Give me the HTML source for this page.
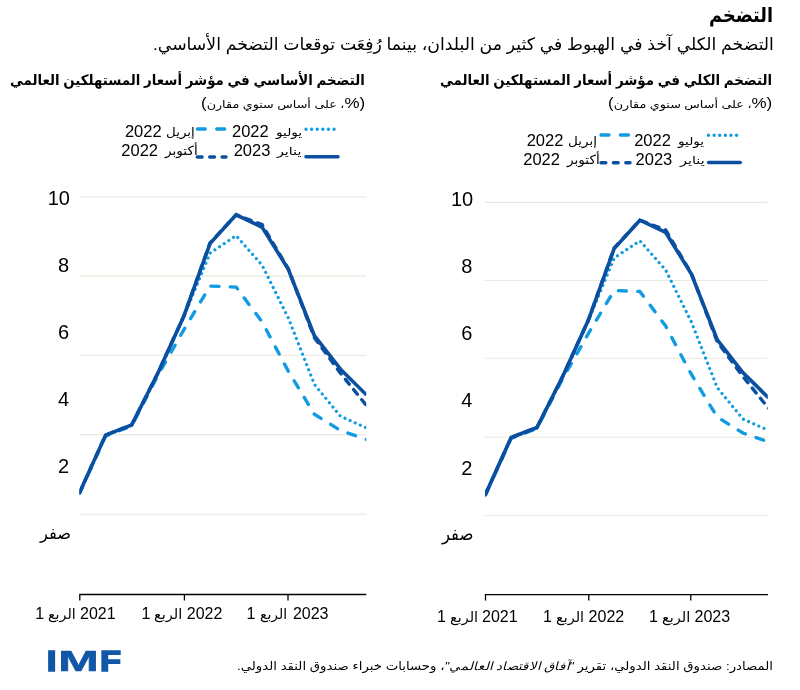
<!DOCTYPE html>
<html lang="ar">
<head>
<meta charset="utf-8">
<title>التضخم</title>
<style>
html,body{margin:0;padding:0;background:#fff;}
body{width:800px;height:690px;position:relative;overflow:hidden;font-family:"Liberation Sans", "DejaVu Sans", sans-serif;color:#000;}
.t{position:absolute;white-space:nowrap;line-height:1.2;transform-origin:0 0;}
.b{font-weight:bold;}
.l{font-size:1.33em;line-height:0;}
</style>
</head>
<body>
<svg width="800" height="690" viewBox="0 0 800 690" style="position:absolute;left:0;top:0">
<clipPath id="clipR"><rect x="485" y="150" width="282.75" height="420"/></clipPath>
<line x1="485" x2="767.75" y1="202.4" y2="202.4" stroke="#EAE8DD" stroke-width="1.1"/>
<line x1="485" x2="767.75" y1="280.5" y2="280.5" stroke="#EAE8DD" stroke-width="1.1"/>
<line x1="485" x2="767.75" y1="358.2" y2="358.2" stroke="#EAE8DD" stroke-width="1.1"/>
<line x1="485" x2="767.75" y1="437.3" y2="437.3" stroke="#EAE8DD" stroke-width="1.1"/>
<line x1="485" x2="767.75" y1="515.5" y2="515.5" stroke="#EAE8DD" stroke-width="1.1"/>
<g clip-path="url(#clipR)" fill="none" stroke-linejoin="miter" stroke-miterlimit="10">
<polyline points="485.40,495.00 511.15,438.50 536.90,428.50 562.65,378.80 588.40,333.50 614.15,290.50 639.90,291.50 665.65,326.00 691.40,374.50 717.15,417.00 742.90,433.00 768.65,442.00" stroke="#109BE2" stroke-width="3.4" stroke-linecap="round" stroke-dasharray="8 11.4"/>
<polyline points="485.40,494.50 511.15,438.00 536.90,428.00 562.65,377.00 588.40,320.50 614.15,258.00 639.90,240.80 665.65,270.00 691.40,322.00 717.15,387.50 742.90,419.00 768.65,430.50" stroke="#109BE2" stroke-width="3.2" stroke-linecap="round" stroke-dasharray="0.01 5.6"/>
<polyline points="485.40,494.50 511.15,437.50 536.90,427.50 562.65,376.50 588.40,320.00 614.15,248.00 639.90,220.20 665.65,230.00 691.40,273.50 717.15,341.50 742.90,376.50 768.65,408.50" stroke="#0A4FA0" stroke-width="3.4" stroke-linecap="round" stroke-dasharray="6 7"/>
<polyline points="485.40,494.50 511.15,437.50 536.90,427.50 562.65,376.50 588.40,320.00 614.15,248.60 639.90,220.20 665.65,232.50 691.40,274.00 717.15,339.50 742.90,372.50 768.65,398.00" stroke="#0A4FA0" stroke-width="3.6"/>
</g>
<clipPath id="clipL"><rect x="79.5" y="150" width="286.75" height="420"/></clipPath>
<line x1="79.5" x2="366.25" y1="197" y2="197" stroke="#EAE8DD" stroke-width="1.1"/>
<line x1="79.5" x2="366.25" y1="276.1" y2="276.1" stroke="#EAE8DD" stroke-width="1.1"/>
<line x1="79.5" x2="366.25" y1="355.2" y2="355.2" stroke="#EAE8DD" stroke-width="1.1"/>
<line x1="79.5" x2="366.25" y1="434.6" y2="434.6" stroke="#EAE8DD" stroke-width="1.1"/>
<line x1="79.5" x2="366.25" y1="514.2" y2="514.2" stroke="#EAE8DD" stroke-width="1.1"/>
<g clip-path="url(#clipL)" fill="none" stroke-linejoin="miter" stroke-miterlimit="10">
<polyline points="79.50,493.32 105.60,436.06 131.70,425.93 157.80,375.56 183.90,329.64 210.00,286.06 236.10,287.08 262.20,322.04 288.30,371.20 314.40,414.27 340.50,430.49 366.60,439.61" stroke="#109BE2" stroke-width="3.4" stroke-linecap="round" stroke-dasharray="8 11.4"/>
<polyline points="79.50,492.82 105.60,435.56 131.70,425.42 157.80,373.73 183.90,316.47 210.00,253.13 236.10,235.69 262.20,265.29 288.30,317.99 314.40,384.37 340.50,416.30 366.60,427.95" stroke="#109BE2" stroke-width="3.2" stroke-linecap="round" stroke-dasharray="0.01 5.6"/>
<polyline points="79.50,492.82 105.60,435.05 131.70,424.91 157.80,373.22 183.90,315.96 210.00,242.99 236.10,214.81 262.20,224.75 288.30,268.83 314.40,337.75 340.50,373.22 366.60,405.66" stroke="#0A4FA0" stroke-width="3.4" stroke-linecap="round" stroke-dasharray="6 7"/>
<polyline points="79.50,492.82 105.60,435.05 131.70,424.91 157.80,373.22 183.90,315.96 210.00,243.60 236.10,214.81 262.20,227.28 288.30,269.34 314.40,335.73 340.50,369.17 366.60,395.02" stroke="#0A4FA0" stroke-width="3.6"/>
</g>
<line x1="484.9" x2="768" y1="594.6" y2="594.6" stroke="#000" stroke-width="1.3"/>
<line x1="485.5" x2="485.5" y1="594.6" y2="600.6" stroke="#000" stroke-width="1.3"/>
<line x1="588.75" x2="588.75" y1="594.6" y2="600.6" stroke="#000" stroke-width="1.3"/>
<line x1="690.75" x2="690.75" y1="594.6" y2="600.6" stroke="#000" stroke-width="1.3"/>
<line x1="79.2" x2="366.25" y1="594.5" y2="594.5" stroke="#000" stroke-width="1.3"/>
<line x1="79.8" x2="79.8" y1="594.5" y2="600.5" stroke="#000" stroke-width="1.3"/>
<line x1="184.4" x2="184.4" y1="594.5" y2="600.5" stroke="#000" stroke-width="1.3"/>
<line x1="288" x2="288" y1="594.5" y2="600.5" stroke="#000" stroke-width="1.3"/>
<line x1="708.5" x2="737" y1="135.2" y2="135.2" stroke="#109BE2" stroke-width="3.4" stroke-linecap="round" stroke-dasharray="0.01 5.6"/>
<line x1="601" x2="630" y1="135" y2="135" stroke="#109BE2" stroke-width="3.3" stroke-linecap="round" stroke-dasharray="8 11.4"/>
<line x1="708.6" x2="740.2" y1="162.5" y2="162.5" stroke="#0A4FA0" stroke-width="3.6" stroke-linecap="round"/>
<line x1="601" x2="630" y1="162.7" y2="162.7" stroke="#0A4FA0" stroke-width="3.4" stroke-linecap="round" stroke-dasharray="4.8 7.6"/>
<line x1="306" x2="334.5" y1="129.2" y2="129.2" stroke="#109BE2" stroke-width="3.4" stroke-linecap="round" stroke-dasharray="0.01 5.6"/>
<line x1="197.3" x2="226" y1="129" y2="129" stroke="#109BE2" stroke-width="3.3" stroke-linecap="round" stroke-dasharray="8 11.4"/>
<line x1="306" x2="338" y1="156.8" y2="156.8" stroke="#0A4FA0" stroke-width="3.6" stroke-linecap="round"/>
<line x1="197.3" x2="226" y1="157" y2="157" stroke="#0A4FA0" stroke-width="3.4" stroke-linecap="round" stroke-dasharray="4.8 7.6"/>
<text transform="translate(46.72,670.8) scale(1.215,1)" font-family="Liberation Sans, sans-serif" font-weight="bold" font-size="28.9" fill="#1157A7" stroke="#1157A7" stroke-width="1.6" stroke-linejoin="miter">I</text>
<text transform="translate(58.13,671.3) scale(1.597,1)" font-family="Liberation Sans, sans-serif" font-weight="bold" font-size="30.4" fill="#1157A7" stroke="#1157A7" stroke-width="0.6" stroke-linejoin="miter">M</text>
<text transform="translate(100.05,670.8) scale(1.19,1)" font-family="Liberation Sans, sans-serif" font-weight="bold" font-size="28.9" fill="#1157A7" stroke="#1157A7" stroke-width="1.6" stroke-linejoin="miter">F</text>
</svg>
<div class="t b" dir="rtl" style="left:709.0px;top:3.0px;font-size:20.26px;transform:scaleX(0.8747);">التضخم</div>
<div class="t" dir="rtl" style="left:152.6px;top:35.0px;font-size:17.11px;transform:scaleX(1.008);">التضخم الكلي آخذ في الهبوط في كثير من البلدان، بينما رُفِعَت توقعات التضخم الأساسي.</div>
<div class="t b" dir="rtl" style="left:440.0px;top:72.0px;font-size:14.34px;transform:scaleX(0.9326);">التضخم الكلي في مؤشر أسعار المستهلكين العالمي</div>
<div class="t b" dir="rtl" style="left:10.0px;top:72.0px;font-size:14.34px;transform:scaleX(0.9319);">التضخم الأساسي في مؤشر أسعار المستهلكين العالمي</div>
<div class="t sub" dir="rtl" style="left:607.9px;top:98.0px;font-size:10.53px;transform:scaleX(1.2093);"><span class="l">(%</span>، على أساس سنوي مقارن<span class="l">)</span></div>
<div class="t sub" dir="rtl" style="left:201.4px;top:98.0px;font-size:10.53px;transform:scaleX(1.2086);"><span class="l">(%</span>، على أساس سنوي مقارن<span class="l">)</span></div>
<div class="t" dir="ltr" style="left:634.17px;top:131.0px;font-size:16.5px;">2022</div>
<div class="t" dir="rtl" style="left:677.5px;top:135.0px;font-size:10.67px;transform:scaleX(1.278);">يوليو</div>
<div class="t" dir="ltr" style="left:635.58px;top:150.0px;font-size:16.5px;">2023</div>
<div class="t" dir="rtl" style="left:679.5px;top:154.0px;font-size:10.78px;transform:scaleX(1.3347);">يناير</div>
<div class="t" dir="ltr" style="left:526.67px;top:131.0px;font-size:16.5px;">2022</div>
<div class="t" dir="rtl" style="left:568.0px;top:134.0px;font-size:11.9px;transform:scaleX(1.1375);">إبريل</div>
<div class="t" dir="ltr" style="left:523.25px;top:150.0px;font-size:16.5px;">2022</div>
<div class="t" dir="rtl" style="left:566.6px;top:152.0px;font-size:12.76px;transform:scaleX(1.0667);">أكتوبر</div>
<div class="t" dir="ltr" style="left:232.0px;top:122.0px;font-size:16.5px;">2022</div>
<div class="t" dir="rtl" style="left:275.5px;top:126.0px;font-size:10.67px;transform:scaleX(1.278);">يوليو</div>
<div class="t" dir="ltr" style="left:233.65px;top:141.0px;font-size:16.5px;">2023</div>
<div class="t" dir="rtl" style="left:277.0px;top:145.0px;font-size:10.78px;transform:scaleX(1.3186);">يناير</div>
<div class="t" dir="ltr" style="left:124.93px;top:122.0px;font-size:16.5px;">2022</div>
<div class="t" dir="rtl" style="left:165.9px;top:126.0px;font-size:11.55px;transform:scaleX(1.1629);">إبريل</div>
<div class="t" dir="ltr" style="left:121.32px;top:141.0px;font-size:16.5px;">2022</div>
<div class="t" dir="rtl" style="left:164.75px;top:143.0px;font-size:12.76px;transform:scaleX(1.0667);">أكتوبر</div>
<div class="t" dir="ltr" style="left:450.9px;top:187.0px;font-size:20px;">10</div>
<div class="t" dir="ltr" style="left:47.75px;top:186.0px;font-size:20px;">10</div>
<div class="t" dir="ltr" style="left:461.22px;top:254.0px;font-size:20px;">8</div>
<div class="t" dir="ltr" style="left:58.05px;top:253.0px;font-size:20px;">8</div>
<div class="t" dir="ltr" style="left:461.22px;top:321.0px;font-size:20px;">6</div>
<div class="t" dir="ltr" style="left:58.05px;top:320.0px;font-size:20px;">6</div>
<div class="t" dir="ltr" style="left:461.22px;top:388.0px;font-size:20px;">4</div>
<div class="t" dir="ltr" style="left:58.05px;top:387.0px;font-size:20px;">4</div>
<div class="t" dir="ltr" style="left:461.22px;top:456.0px;font-size:20px;">2</div>
<div class="t" dir="ltr" style="left:58.05px;top:454.0px;font-size:20px;">2</div>
<div class="t" dir="rtl" style="left:442.3px;top:524.0px;font-size:17.85px;transform:scaleX(0.9264);">صفر</div>
<div class="t" dir="rtl" style="left:39.6px;top:523.0px;font-size:17.23px;transform:scaleX(0.9472);">صفر</div>
<div class="t" dir="ltr" style="left:437.12px;top:607.0px;font-size:16px;">1</div>
<div class="t" dir="rtl" style="left:450.2px;top:609.0px;font-size:13.83px;transform:scaleX(1.0446);">الربع</div>
<div class="t" dir="ltr" style="left:482.0px;top:607.0px;font-size:16px;">2021</div>
<div class="t" dir="ltr" style="left:543.0px;top:607.0px;font-size:16px;">1</div>
<div class="t" dir="rtl" style="left:556.0px;top:609.0px;font-size:13.83px;transform:scaleX(1.0446);">الربع</div>
<div class="t" dir="ltr" style="left:588.62px;top:607.0px;font-size:16px;">2022</div>
<div class="t" dir="ltr" style="left:648.88px;top:607.0px;font-size:16px;">1</div>
<div class="t" dir="rtl" style="left:661.5px;top:609.0px;font-size:13.83px;transform:scaleX(1.0547);">الربع</div>
<div class="t" dir="ltr" style="left:694.5px;top:607.0px;font-size:16px;">2023</div>
<div class="t" dir="ltr" style="left:35.25px;top:604.0px;font-size:16px;">1</div>
<div class="t" dir="rtl" style="left:48.25px;top:606.0px;font-size:13.83px;transform:scaleX(1.0346);">الربع</div>
<div class="t" dir="ltr" style="left:80.0px;top:604.0px;font-size:16px;">2021</div>
<div class="t" dir="ltr" style="left:141.38px;top:604.0px;font-size:16px;">1</div>
<div class="t" dir="rtl" style="left:154.0px;top:606.0px;font-size:13.83px;transform:scaleX(1.0547);">الربع</div>
<div class="t" dir="ltr" style="left:186.75px;top:604.0px;font-size:16px;">2022</div>
<div class="t" dir="ltr" style="left:246.38px;top:604.0px;font-size:16px;">1</div>
<div class="t" dir="rtl" style="left:260.25px;top:606.0px;font-size:13.83px;transform:scaleX(1.0045);">الربع</div>
<div class="t" dir="ltr" style="left:292.88px;top:604.0px;font-size:16px;">2023</div>
<div class="t" dir="rtl" style="left:237.0px;top:660.0px;font-size:11.58px;transform:scaleX(1.1477);">المصادر: صندوق النقد الدولي، تقرير <i>"آفاق الاقتصاد العالمي"</i>، وحسابات خبراء صندوق النقد الدولي.</div>
</body>
</html>
